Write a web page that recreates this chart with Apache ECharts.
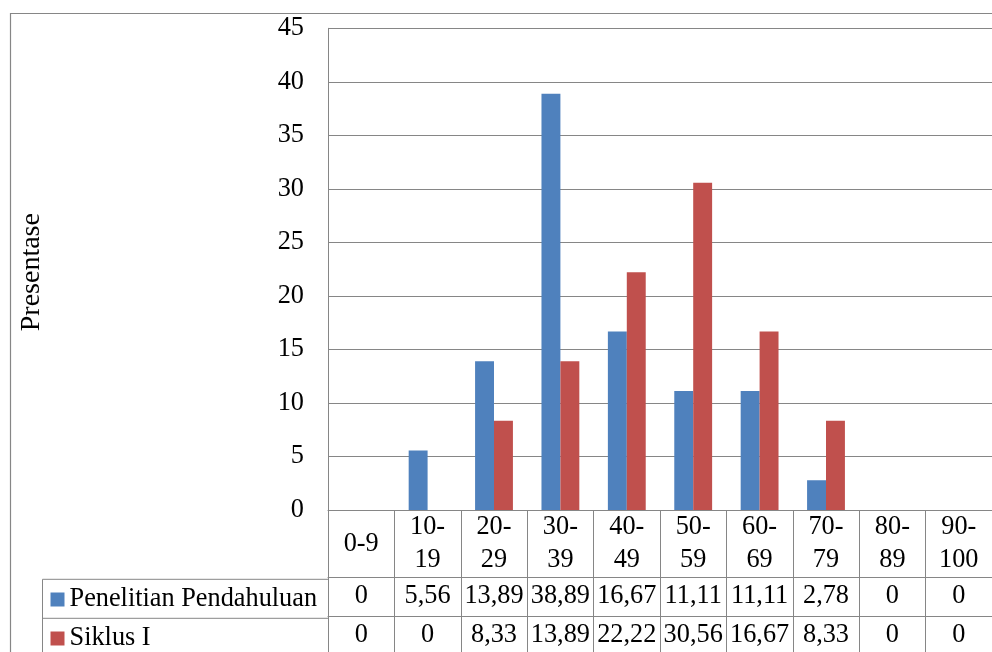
<!DOCTYPE html>
<html><head><meta charset="utf-8">
<script src="https://cdn.jsdelivr.net/npm/echarts@6/dist/echarts.min.js"></script>
<style>html,body{margin:0;padding:0;background:#fff}#c{width:992px;height:652px}</style>
</head><body><div id="c"></div>
<script>
var categories = ['0-9','10-19','20-29','30-39','40-49','50-59','60-69','70-79','80-89','90-100'];
var penelitianPendahuluan = [0, 5.56, 13.89, 38.89, 16.67, 11.11, 11.11, 2.78, 0, 0];
var siklusI = [0, 0, 8.33, 13.89, 22.22, 30.56, 16.67, 8.33, 0, 0];
var seriesNames = ['Penelitian Pendahuluan', 'Siklus I'];
var yTicks = {min: 0, max: 45, interval: 5};

var FONT = 'Liberation Serif';
var FS = 26.3;
var GRAY = '#868686';
function fmt(v){ return String(v).replace('.', ','); }

var chart = echarts.init(document.getElementById('c'), null, {renderer:'canvas'});
var G = {left: 328, top: 28.3, width: 666.7, height: 484};
var headerH = 67, rowH = 39;

function tableAxis(offset, tickLen, labelMargin, fmtFn) {
  return {
    type: 'category', data: categories, position: 'bottom', offset: offset,
    axisLine: {show: true, lineStyle: {color: GRAY, width: 1}},
    axisTick: {show: true, interval: 0, length: tickLen, lineStyle: {color: GRAY, width: 1}},
    axisLabel: {interval: 0, margin: labelMargin, verticalAlign: 'middle', color: '#000',
      fontFamily: FONT, fontSize: FS, lineHeight: 33, formatter: fmtFn}
  };
}

var option = {
  animation: false,
  backgroundColor: '#fff',
  grid: G,
  legend: {
    orient: 'vertical', left: 50.5, top: 586.5, itemWidth: 14, itemHeight: 14, itemGap: 13,
    icon: 'rect', padding: 0,
    textStyle: {fontFamily: FONT, fontSize: FS, lineHeight: 25, color: '#000'},
    data: seriesNames
  },
  xAxis: [
    tableAxis(0, headerH, 34, function(v){ return v === '0-9' ? v : v.replace('-', '-\n'); }),
    tableAxis(headerH, rowH, 19.5, function(v, i){ return fmt(penelitianPendahuluan[i]); }),
    tableAxis(headerH + rowH, 45, 19.5, function(v, i){ return fmt(siklusI[i]); })
  ],
  yAxis: {
    type: 'value', min: yTicks.min, max: yTicks.max, interval: yTicks.interval,
    name: 'Presentase', nameLocation: 'middle', nameGap: 282,
    nameTextStyle: {fontFamily: FONT, fontSize: 28, color: '#000', padding: [0, 6, 0, 0]},
    axisLine: {show: true, lineStyle: {color: GRAY, width: 1}},
    axisTick: {show: false},
    splitLine: {show: true, lineStyle: {color: GRAY, width: 1}},
    axisLabel: {margin: 24, color: '#000', fontFamily: FONT, fontSize: FS}
  },
  series: [
    {name: seriesNames[0], type: 'bar', data: penelitianPendahuluan, xAxisIndex: 0,
     barWidth: '28.5%', barGap: '0%', itemStyle: {color: '#4F81BD'}},
    {name: seriesNames[1], type: 'bar', data: siklusI, xAxisIndex: 0,
     barWidth: '28.5%', barGap: '0%', itemStyle: {color: '#C0504D'}}
  ],
  graphic: [
    {type: 'rect', z: -10, shape: {x: 10.5, y: 13.5, width: 1000, height: 700},
     style: {fill: null, stroke: GRAY, lineWidth: 1.2}},
    {type: 'polyline', shape: {points: [[42.5, 700], [42.5, 579.3], [328, 579.3]]},
     style: {fill: null, stroke: GRAY, lineWidth: 1}},
    {type: 'line', shape: {x1: 42.5, y1: 618.3, x2: 328, y2: 618.3},
     style: {stroke: GRAY, lineWidth: 1}}
  ]
};
chart.setOption(option);
</script></body></html>
